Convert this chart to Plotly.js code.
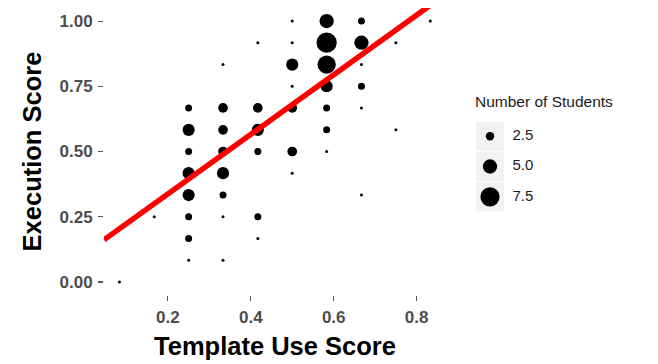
<!DOCTYPE html>
<html><head><meta charset="utf-8">
<script src="https://cdn.plot.ly/plotly-3.0.1.min.js"></script>
<style>html,body{margin:0;padding:0;background:#fff}#chart{width:658px;height:364px}</style>
</head><body><div id="chart"></div>
<script>
// Data
const templateScore = [0.083,0.167,
  0.25,0.25,0.25,0.25,0.25,0.25,0.25,0.25,
  0.333,0.333,0.333,0.333,0.333,0.333,0.333,0.333,
  0.417,0.417,0.417,0.417,0.417,0.417,
  0.5,0.5,0.5,0.5,0.5,0.5,0.5,
  0.583,0.583,0.583,0.583,0.583,0.583,0.583,
  0.667,0.667,0.667,0.667,0.667,0.667,
  0.75,0.75,0.833];
const executionScore = [0,0.25,
  0.667,0.583,0.5,0.417,0.333,0.25,0.167,0.083,
  0.833,0.667,0.583,0.5,0.417,0.333,0.25,0.083,
  0.917,0.667,0.583,0.5,0.25,0.167,
  1.0,0.917,0.833,0.75,0.667,0.5,0.417,
  1.0,0.917,0.833,0.75,0.667,0.583,0.5,
  1.0,0.917,0.833,0.75,0.667,0.333,
  0.917,0.583,1.0];
const studentCount = [1,1,
  2,4,2,4,4,2,2,1,
  1,3,3,3,4,2,1,1,
  1,3,4,2,2,1,
  1,1,4,1,3,3,1,
  5,8,7,4,2,2,1,
  2,5,1,2,1,1,
  1,1,1];
const fitIntercept = 0.109;
const fitSlope = 1.142;
const legendTitle = 'Number of Students';
const legendValues = [2.5, 5.0, 7.5];
const legendLabels = ['2.5', '5.0', '7.5'];
const xTickVals = [0.2, 0.4, 0.6, 0.8];
const xTickText = ['0.2', '0.4', '0.6', '0.8'];
const yTickVals = [0, 0.25, 0.5, 0.75, 1.0];
const yTickText = ['0.00', '0.25', '0.50', '0.75', '1.00'];

const xRange = [0.0458, 0.871];
const yRange = [-0.05, 1.05];
const sizeFor = n => 3 + 4 * Math.pow(n - 1, 0.75);
const FONT = 'Liberation Sans, Arial, sans-serif';

const points = {
  type: 'scatter', mode: 'markers',
  x: templateScore, y: executionScore,
  marker: {color: '#000', size: studentCount.map(sizeFor), sizemode: 'diameter', line: {width: 0}, opacity: 1},
  xaxis: 'x', yaxis: 'y', showlegend: false, hoverinfo: 'none'
};
const fitLine = {
  type: 'scatter', mode: 'lines',
  x: xRange, y: xRange.map(v => fitIntercept + fitSlope * v),
  line: {color: '#FF0000', width: 5.5},
  xaxis: 'x', yaxis: 'y', showlegend: false, hoverinfo: 'none'
};
const legendKeys = {
  type: 'scatter', mode: 'markers',
  x: legendValues.map(() => 0.5), y: legendValues.map((v, i) => i + 0.5),
  marker: {color: '#000', size: legendValues.map(sizeFor), line: {width: 0}, opacity: 1},
  xaxis: 'x2', yaxis: 'y2', showlegend: false, hoverinfo: 'none', cliponaxis: false
};
const legendText = {
  type: 'scatter', mode: 'text',
  x: legendValues.map(() => 1.3), y: legendValues.map((v, i) => i + 0.5),
  text: legendLabels, textposition: 'middle right',
  textfont: {family: FONT, size: 15, color: '#1a1a1a'},
  xaxis: 'x2', yaxis: 'y2', showlegend: false, hoverinfo: 'none', cliponaxis: false
};

const shapes = legendValues.map((v, i) => ({
  type: 'rect', xref: 'x2', yref: 'y2', x0: 0, x1: 1, y0: i + 0.02, y1: i + 0.98,
  fillcolor: '#F2F2F2', line: {width: 0}, layer: 'below'
}));

const mainW = 342, paperW = 658 - 104 - 10;
const layout = {
  width: 658, height: 364,
  margin: {l: 104, r: 10, t: 8, b: 69},
  paper_bgcolor: '#fff', plot_bgcolor: '#fff',
  font: {family: FONT},
  showlegend: false,
  xaxis: {
    domain: [0, mainW / paperW], range: xRange,
    tickvals: xTickVals, ticktext: xTickText,
    ticks: 'outside', ticklen: 5, tickwidth: 1.1, tickcolor: '#555',
    showgrid: false, zeroline: false, showline: false,
    tickfont: {family: FONT, size: 17, color: '#4D4D4D', weight: 'bold'},
    ticklabelstandoff: 2,
    title: {text: 'Template Use Score', font: {family: FONT, size: 25.5, color: '#000', weight: 'bold'}, standoff: 10},
    automargin: false
  },
  yaxis: {
    domain: [0, 1], range: yRange,
    tickvals: yTickVals, ticktext: yTickText,
    ticks: 'outside', ticklen: 5, tickwidth: 1.1, tickcolor: '#555',
    showgrid: false, zeroline: false, showline: false,
    tickfont: {family: FONT, size: 17, color: '#4D4D4D', weight: 'bold'},
    ticklabelstandoff: 2,
    title: {text: 'Execution Score', font: {family: FONT, size: 25.5, color: '#000', weight: 'bold'}, standoff: 10},
    automargin: false
  },
  xaxis2: {
    domain: [(476 - 104) / paperW, (560 - 104) / paperW], range: [0, 3],
    visible: false, fixedrange: true
  },
  yaxis2: {
    domain: [(295 - 212) / 287, (295 - 121) / 287], range: [3, 0],
    visible: false, fixedrange: true
  },
  shapes: shapes,
  annotations: [{
    text: legendTitle, xref: 'paper', yref: 'paper',
    x: (473 - 104) / paperW, y: (295 - 101) / 287, xanchor: 'left', yanchor: 'middle',
    showarrow: false, font: {family: FONT, size: 15.5, color: '#1a1a1a'}
  }]
};

Plotly.newPlot('chart', [points, fitLine, legendKeys, legendText], layout, {staticPlot: true, displayModeBar: false});
</script>
</body></html>
